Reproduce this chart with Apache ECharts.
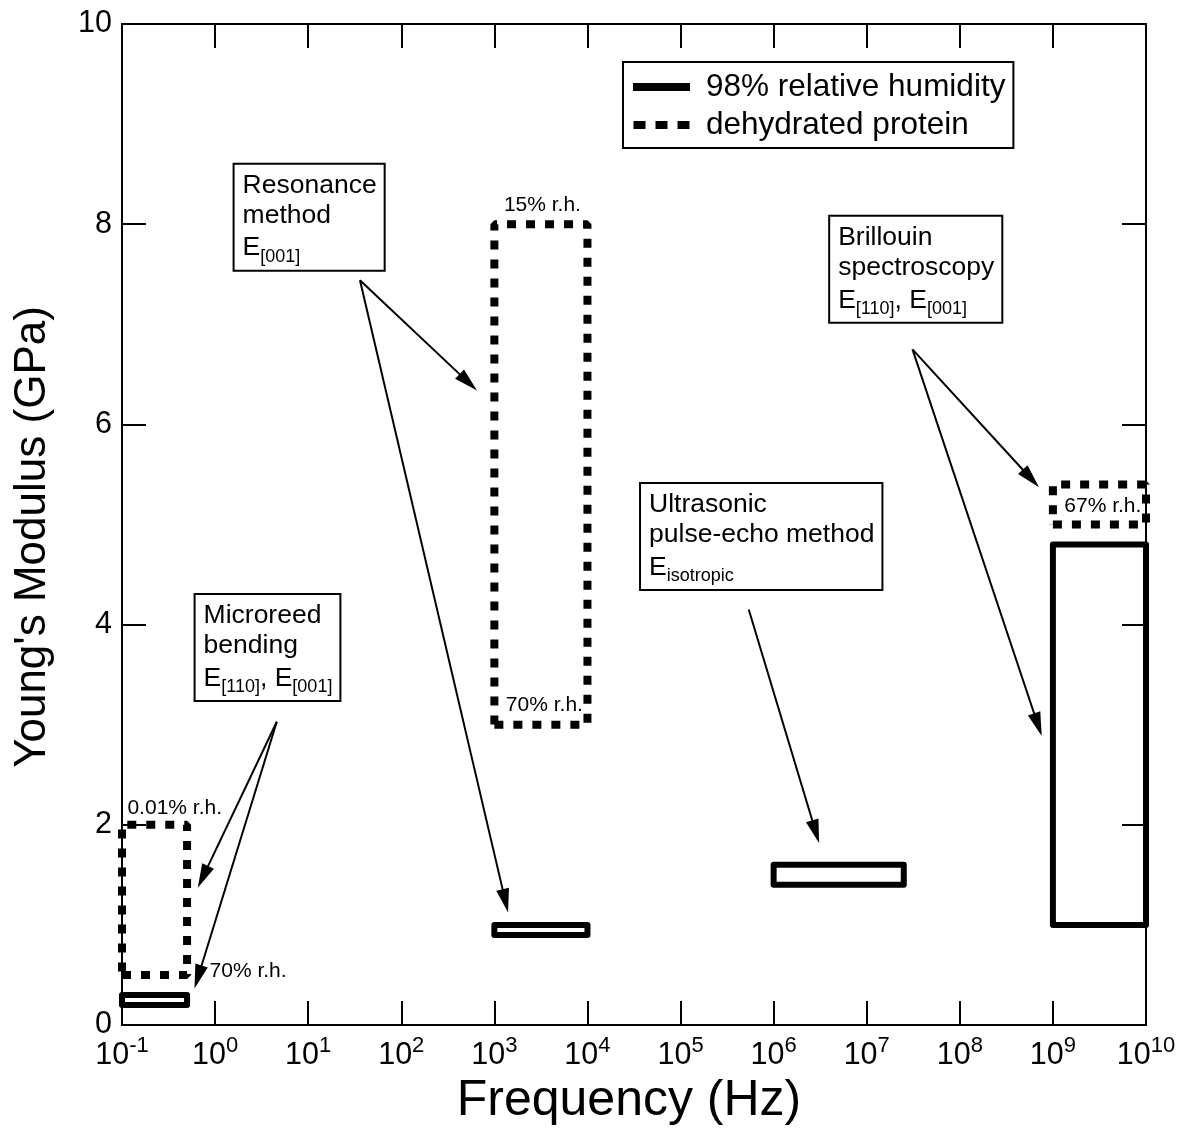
<!DOCTYPE html>
<html>
<head>
<meta charset="utf-8">
<title>Young's modulus vs frequency</title>
<script src="https://cdn.jsdelivr.net/npm/echarts@6/dist/echarts.min.js"></script>
<style>
  html, body { margin: 0; padding: 0; background: #fff; }
  #chart { width: 1179px; height: 1133px; }
</style>
</head>
<body>
<div id="chart"></div>
<script>
const FONT = "'Liberation Sans', Arial, Helvetica, sans-serif";
const seriesNames = ['98% relative humidity', 'dehydrated protein'];

// decade ticks on the frequency axis
const freqTicks = [0.1, 1, 10, 1e2, 1e3, 1e4, 1e5, 1e6, 1e7, 1e8, 1e9, 1e10];
const modTicks = [0, 2, 4, 6, 8, 10];

// 98% relative humidity ranges (frequency in Hz, modulus in GPa)
const wetFreqLo = [0.1, 1e3, 1e6, 1e9];
const wetFreqHi = [0.5, 1e4, 2.5e7, 1e10];
const wetModLo = [0.2, 0.9, 1.4, 1.0];
const wetModHi = [0.3, 1.0, 1.6, 4.8];

// dehydrated protein ranges
const dryFreqLo = [0.1, 1e3, 1e9];
const dryFreqHi = [0.5, 1e4, 1e10];
const dryModLo = [0.5, 3.0, 5.0];
const dryModHi = [2.0, 8.0, 5.4];

// method boxes, anchored at their top-left corner
const noteText = [
  'Microreed\nbending\nE{s|[110]}, E{s|[001]}',
  'Resonance\nmethod\nE{s|[001]}',
  'Ultrasonic\npulse-echo method\nE{s|isotropic}',
  'Brillouin\nspectroscopy\nE{s|[110]}, E{s|[001]}'
];
const noteFreq = [0.625, 1.64, 3.81e4, 4.1e6];
const noteMod = [4.29, 8.59, 5.40, 8.07];

// humidity labels, anchored at their left-middle
const rhText = ['15% r.h.', '70% r.h.', '0.01% r.h.', '70% r.h.', '67% r.h.'];
const rhFreq = [1250, 1312, 0.113, 0.862, 1.31e9];
const rhMod = [8.19, 3.19, 2.17, 0.54, 5.18];

// arrows from method boxes to ranges
const arrowFromFreq = [4.6, 4.6, 36, 36, 5.4e5, 3.1e7, 3.1e7];
const arrowFromMod = [3.03, 3.03, 7.44, 7.44, 4.15, 6.75, 6.75];
const arrowToFreq = [0.74, 0.656, 525, 1312, 2.83e6, 5.8e8, 6.9e8];
const arrowToMod = [1.48, 0.48, 6.42, 1.24, 1.93, 5.46, 3.0];

const boxPath = (x0, x1, y0, y1) => [[x0, y0], [x1, y0], [x1, y1], [x0, y1], [x0, y0]];

const chart = echarts.init(document.getElementById('chart'));

const wetSeries = wetFreqLo.map((_, i) => ({
  name: seriesNames[0],
  type: 'line',
  data: boxPath(wetFreqLo[i], wetFreqHi[i], wetModLo[i], wetModHi[i]),
  symbol: 'none',
  clip: false,
  silent: true,
  lineStyle: { color: '#000', width: 6, join: 'round', cap: 'round' },
  itemStyle: { color: '#000' },
  z: 3
}));

const drySeries = dryFreqLo.map((_, i) => ({
  name: seriesNames[1],
  type: 'line',
  data: boxPath(dryFreqLo[i], dryFreqHi[i], dryModLo[i], dryModHi[i]),
  symbol: 'none',
  clip: false,
  silent: true,
  lineStyle: { color: '#000', width: 8, type: [9, 10], cap: 'butt' },
  itemStyle: { color: '#000' },
  z: 3
}));

const axisLine = { show: true, onZero: false, lineStyle: { color: '#000', width: 2 } };
const tickStyle = { color: '#000', width: 2 };

const logAxis = (extra) => Object.assign({
  type: 'log', logBase: 10, min: 0.1, max: 1e10, interval: 1,
  axisLine: axisLine,
  axisTick: { show: true, inside: true, length: 24, lineStyle: tickStyle, customValues: freqTicks },
  splitLine: { show: false },
  minorTick: { show: false }
}, extra);

const valAxis = (extra) => Object.assign({
  type: 'value', min: 0, max: 10, interval: 2,
  axisLine: axisLine,
  axisTick: { show: true, inside: true, length: 24, lineStyle: tickStyle, customValues: modTicks },
  splitLine: { show: false }
}, extra);

const option = {
  animation: false,
  backgroundColor: '#fff',
  textStyle: { fontFamily: FONT, color: '#000' },
  grid: { left: 122, right: 33, top: 24, bottom: 108 },
  legend: {
    orient: 'vertical',
    left: 623,
    top: 62,
    data: [
      { name: seriesNames[0], icon: 'rect' },
      { name: seriesNames[1], icon: 'path://M0,0h12v8h-12z M22,0h12v8h-12z M44,0h12v8h-12z' }
    ],
    backgroundColor: '#fff',
    borderColor: '#000',
    borderWidth: 2,
    padding: [9, 8, 7, 10],
    itemGap: 6,
    itemWidth: 57,
    itemHeight: 8,
    itemStyle: { color: '#000', borderWidth: 0 },
    lineStyle: { width: 0 },
    textStyle: { fontSize: 31.5, lineHeight: 31, fontFamily: FONT, color: '#000', padding: [0, 0, 0, 11] }
  },
  xAxis: [
    logAxis({
      position: 'bottom',
      name: 'Frequency (Hz)', nameLocation: 'middle', nameGap: 46,
      nameTextStyle: { fontSize: 50, fontFamily: FONT, color: '#000', padding: [0, 10, 0, 0] },
      axisLabel: {
        margin: 10,
        customValues: freqTicks,
        formatter: v => '{b|10}{e|' + Math.round(Math.log10(v)) + '}',
        rich: {
          b: { fontSize: 30.5, fontFamily: FONT, color: '#000', lineHeight: 36, verticalAlign: 'bottom' },
          e: { fontSize: 22, fontFamily: FONT, color: '#000', lineHeight: 22, verticalAlign: 'top' }
        }
      }
    }),
    logAxis({ position: 'top', axisLabel: { show: false } })
  ],
  yAxis: [
    valAxis({
      position: 'left',
      name: "Young's Modulus (GPa)", nameLocation: 'middle', nameGap: 67,
      nameTextStyle: { fontSize: 44, fontFamily: FONT, color: '#000', padding: [0, 25, 0, 0] },
      axisLabel: { margin: 10, fontSize: 30.5, fontFamily: FONT, color: '#000', customValues: modTicks }
    }),
    valAxis({ position: 'right', axisLabel: { show: false } })
  ],
  series: [
    ...wetSeries,
    ...drySeries,
    {
      name: 'arrows',
      type: 'line',
      data: [],
      silent: true,
      markLine: {
        silent: true,
        animation: false,
        symbol: ['none', 'triangle'],
        symbolSize: [13, 24],
        label: { show: false },
        lineStyle: { color: '#000', width: 2, type: 'solid', opacity: 1 },
        emphasis: { disabled: true },
        data: arrowFromFreq.map((_, i) => [
          { coord: [arrowFromFreq[i], arrowFromMod[i]] },
          { coord: [arrowToFreq[i], arrowToMod[i]] }
        ])
      },
      z: 4
    },
    {
      name: 'notes',
      type: 'scatter',
      symbolSize: 1,
      silent: true,
      itemStyle: { color: 'rgba(0,0,0,0)' },
      data: noteText.map((t, i) => ({ value: [noteFreq[i], noteMod[i]], text: t })),
      label: {
        show: true,
        position: [0, 0],
        align: 'left',
        verticalAlign: 'top',
        formatter: p => p.data.text,
        fontSize: 26.5,
        fontFamily: FONT,
        color: '#000',
        opacity: 1,
        textBorderWidth: 0,
        lineHeight: 30,
        backgroundColor: '#fff',
        borderColor: '#000',
        borderWidth: 2,
        padding: [6, 7, 4, 8],
        rich: {
          s: { fontSize: 18, fontFamily: FONT, color: '#000', verticalAlign: 'bottom', lineHeight: 35 }
        }
      },
      z: 5
    },
    {
      name: 'rh',
      type: 'scatter',
      symbolSize: 1,
      silent: true,
      itemStyle: { color: 'rgba(0,0,0,0)' },
      data: rhText.map((t, i) => ({ value: [rhFreq[i], rhMod[i]], text: t })),
      label: {
        show: true,
        position: 'right',
        distance: 0,
        formatter: p => p.data.text,
        fontSize: 21,
        fontFamily: FONT,
        color: '#000',
        opacity: 1,
        textBorderWidth: 0
      },
      z: 5
    }
  ]
};

chart.setOption(option);
</script>
</body>
</html>
